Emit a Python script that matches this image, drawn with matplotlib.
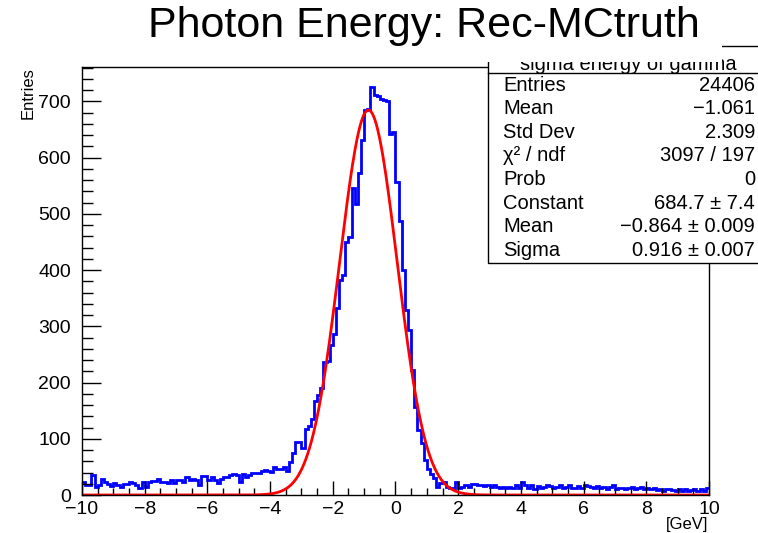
import numpy as np
import matplotlib
matplotlib.use("Agg")
import matplotlib.pyplot as plt
from matplotlib.patches import Rectangle
from matplotlib.lines import Line2D

plt.rcParams['font.family'] = ['Liberation Sans', 'DejaVu Sans']

# histogram: 200 bins from -10 to 10 GeV
x_min, x_max, n_bins = -10, 10, 200
counts = [
    23, 18, 18, 35, 15, 17, 29, 23, 20, 16,
    22, 18, 15, 19, 20, 23, 22, 18, 12, 24,
    15, 24, 25, 25, 29, 24, 23, 21, 27, 21,
    27, 27, 24, 32, 27, 29, 26, 18, 34, 34,
    26, 32, 26, 22, 28, 32, 32, 36, 37, 36,
    24, 37, 32, 36, 39, 40, 40, 42, 45, 43,
    41, 50, 46, 46, 50, 43, 59, 74, 95, 95,
    83, 118, 123, 136, 167, 178, 191, 237, 239, 266,
    286, 332, 382, 391, 450, 459, 546, 518, 572, 631,
    685, 687, 725, 712, 709, 705, 702, 700, 642, 645,
    556, 488, 401, 329, 293, 222, 157, 115, 92, 62,
    47, 38, 30, 15, 21, 24, 14, 12, 12, 24,
    13, 14, 17, 14, 19, 20, 18, 18, 16, 18,
    15, 17, 15, 13, 15, 12, 14, 12, 18, 12,
    24, 17, 13, 17, 11, 16, 12, 15, 18, 16,
    13, 15, 17, 12, 14, 17, 13, 12, 16, 13,
    18, 16, 15, 13, 16, 12, 14, 11, 14, 17,
    11, 13, 12, 10, 12, 14, 11, 12, 14, 11,
    13, 10, 12, 9, 11, 8, 11, 10, 9, 8,
    11, 8, 10, 7, 9, 11, 8, 10, 7, 12,
]

# gaussian fit result
fit_const, fit_mean, fit_sigma = 684.7, -0.864, 0.916

# stats box
stat_labels = ["Entries", "Mean", "Std Dev", "χ² / ndf", "Prob",
               "Constant", "Mean", "Sigma"]
stat_values = ["24406", "−1.061", "2.309", "3097 / 197", "0",
               "684.7 ± 7.4", "−0.864 ± 0.009", "0.916 ± 0.007"]

W, H = 758, 533
def fx(x):
    return x / W
def fy(y):
    return 1 - y / H

fig = plt.figure(figsize=(W / 100, H / 100), dpi=100)
ax = fig.add_axes([fx(82), fy(495), (709 - 82) / W, (495 - 67) / H])

edges = np.linspace(x_min, x_max, n_bins + 1)
ax.stairs(counts, edges, color='blue', lw=2, baseline=None)

xf = np.linspace(x_min, x_max, 1000)
ax.plot(xf, fit_const * np.exp(-0.5 * ((xf - fit_mean) / fit_sigma) ** 2),
        color='red', lw=2)

ax.set_xlim(x_min, x_max)
ax.set_ylim(0, 1.05 * max(counts))
ax.set_xticks(np.arange(-10, 11, 2))
ax.set_xticks(np.arange(-10, 10.01, 0.5), minor=True)
ax.set_yticks(np.arange(0, 701, 100))
ax.set_yticks(np.arange(0, 761, 20), minor=True)
ax.tick_params(axis='x', which='major', direction='in', length=10, width=1,
               labelsize=14, pad=4)
ax.tick_params(axis='x', which='minor', direction='in', length=5, width=1)
ax.tick_params(axis='y', which='major', direction='in', length=14, width=1,
               labelsize=14, pad=8)
ax.tick_params(axis='y', which='minor', direction='in', length=8, width=1)
for s in ax.spines.values():
    s.set_linewidth(1)

fig.text(fx(708), fy(525), "[GeV]", ha='right', va='center', fontsize=12)
fig.text(fx(28), fy(67), "Entries", rotation=90, ha='center', va='top',
         fontsize=12)

# stats box
fig.add_artist(Rectangle((fx(488), fy(263)), (770 - 488) / W, (263 - 46) / H,
                         transform=fig.transFigure, facecolor='white',
                         edgecolor='black', lw=1, zorder=5))
fig.add_artist(Line2D([fx(488), fx(770)], [fy(73), fy(73)],
                      transform=fig.transFigure, color='black', lw=1, zorder=5))
fig.text(fx(628), fy(70), "sigma energy of gamma", ha='center', va='baseline',
         fontsize=14.5, zorder=5.5)
for i, (lab, val) in enumerate(zip(stat_labels, stat_values)):
    yy = 85 + 23.6 * i
    fig.text(fx(503), fy(yy), lab, ha='left', va='center', fontsize=14.5,
             zorder=5.5)
    fig.text(fx(755), fy(yy), val, ha='right', va='center', fontsize=14.5,
             zorder=5.5)

# title box covering the top of the stats box
fig.add_artist(Rectangle((fx(140), fy(62)), (722 - 140) / W, 62 / H,
                         transform=fig.transFigure, facecolor='white',
                         edgecolor='none', zorder=6))
fig.text(fx(424), fy(26), "Photon Energy: Rec-MCtruth", ha='center',
         va='center', fontsize=31, zorder=7)

fig.savefig("out.png", dpi=100)
